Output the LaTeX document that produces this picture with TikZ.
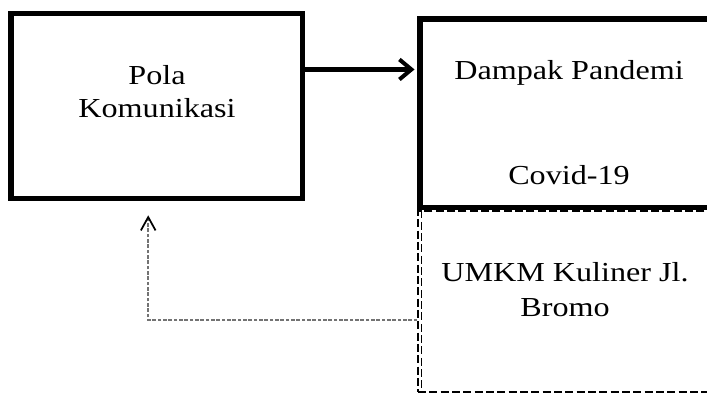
\documentclass[tikz,border=0pt]{standalone}
\usepackage{fontspec}
\setmainfont{Liberation Serif}[FakeStretch=1.17]
\usetikzlibrary{arrows.meta}

\begin{document}
\begin{tikzpicture}[x=0.75pt,y=-0.75pt,
  solidbox/.style={draw,line width=4.2pt,inner sep=0pt},
  dashbox/.style={draw,line width=0.8pt,dash pattern=on 6pt off 2.5pt,inner sep=0pt},
  txt/.style={anchor=base,inner sep=0pt,font=\fontsize{20.6}{24}\selectfont},
  flow/.style={line width=3.6pt,-{Straight Barb[length=9pt,width=15pt,line width=3pt]}},
  back/.style={line width=1.6pt,black!55,dash pattern=on 2.8pt off 1.2pt,
    -{Straight Barb[length=10pt,width=11pt,line width=1.3pt,color=black]}}]
\useasboundingbox (0,0) rectangle (707,395);
\clip (0,0) rectangle (707,395);
% kotak
\node[dashbox,minimum width=226.5pt,minimum height=135.75pt] (umkm) at (569,301.5) {};
\draw[dashbox] ([xshift=3pt]umkm.north west) -- ([xshift=3pt]umkm.south west);
\node[solidbox,minimum width=218.6pt,minimum height=138.75pt] (pola) at (156.75,106) {};
\node[solidbox,minimum width=223.5pt,minimum height=141.4pt] (dampak) at (569,113.25) {};
% teks
\node[txt] (pola1) at (157,85) {Pola};
\node[txt] (pola2) at (157,118) {Komunikasi};
\node[txt] (dampak1) at (569,80) {Dampak Pandemi};
\node[txt] (dampak2) at (569,185) {Covid-19};
\node[txt] (umkm1) at (565,282) {UMKM Kuliner Jl.};
\node[txt] (umkm2) at (565,317) {Bromo};
% panah
\draw[flow,shorten >=2pt] ([yshift=27.4pt]pola.east) -- ([yshift=27.4pt]pola.east -| dampak.west);
\draw[back,shorten >=10.5pt] ([yshift=-13.9pt]umkm.west) -| ([xshift=-6.4pt]pola.south);
\end{tikzpicture}
\end{document}
